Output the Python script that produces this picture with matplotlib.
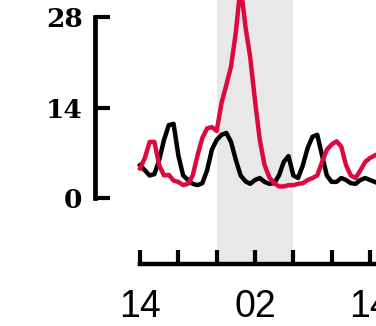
import matplotlib.pyplot as plt
import numpy as np

# activity counts, sampled every 30 min starting at 14:00
black_counts = [5.1, 4.3, 3.5, 3.7, 5.9, 9.0, 11.3, 11.5, 6.6, 3.5,
                2.8, 2.2, 2.0, 2.3, 4.3, 7.5, 9.0, 9.8, 10.1, 8.7,
                5.9, 3.5, 2.6, 2.2, 2.8, 3.1, 2.5, 2.2, 2.3, 3.5,
                5.6, 6.5, 3.5, 3.1, 5.1, 7.8, 9.5, 9.8, 6.6, 3.5,
                2.5, 2.5, 3.1, 2.8, 2.3, 2.2, 2.8, 3.1, 2.8, 2.5]
red_counts = [4.6, 6.2, 8.7, 8.7, 5.1, 3.5, 3.6, 2.7, 2.5, 2.0,
              2.2, 3.5, 6.6, 9.3, 10.8, 11.0, 10.4, 14.7, 17.5, 20.4,
              25.7, 33.0, 26.6, 21.8, 15.1, 9.0, 5.1, 3.2, 2.3, 1.8,
              1.8, 2.0, 2.0, 2.2, 2.3, 2.8, 3.1, 3.5, 5.6, 7.5,
              8.3, 8.8, 8.0, 5.1, 3.5, 3.1, 4.3, 5.6, 6.2, 6.6]
sample_step = 0.5  # hours

x_ticks = [0, 4, 8, 12, 16, 20, 24]
x_labels = ['14', '', '', '02', '', '', '14']
y_ticks = [0, 14, 28]
night = (8, 16)  # 22:00 - 06:00

hours = np.arange(len(black_counts)) * sample_step

fig = plt.figure(figsize=(3.76, 3.26), dpi=100)
ax = fig.add_axes([0.2527, 0.19, 0.7473, 0.81])

ax.axvspan(night[0], night[1], color='#e8e8e8', lw=0, zorder=0)
ax.plot(hours, black_counts, color='black', linewidth=3.2, zorder=2)
ax.plot(hours, red_counts, color='#dc0a3c', linewidth=3.2, zorder=3)

ax.set_xlim(-4.70, 24.63)
ax.set_ylim(-10.24, 30.71)

for side in ['top', 'right']:
    ax.spines[side].set_visible(False)
ax.spines['left'].set_bounds(0, 28)
ax.spines['bottom'].set_bounds(0, 30)
ax.spines['left'].set_linewidth(3.4)
ax.spines['bottom'].set_linewidth(3.2)

ax.set_xticks(x_ticks)
ax.set_xticklabels(x_labels, fontfamily='Liberation Sans', fontsize=27)
ax.set_yticks(y_ticks)
ax.set_yticklabels([str(v) for v in y_ticks], fontfamily='DejaVu Serif',
                   fontweight='bold', fontsize=19)
ax.tick_params(axis='x', direction='in', length=10, width=3, pad=18)
ax.tick_params(axis='y', direction='in', length=11, width=3, pad=9)

fig.savefig('out.png', dpi=100)
